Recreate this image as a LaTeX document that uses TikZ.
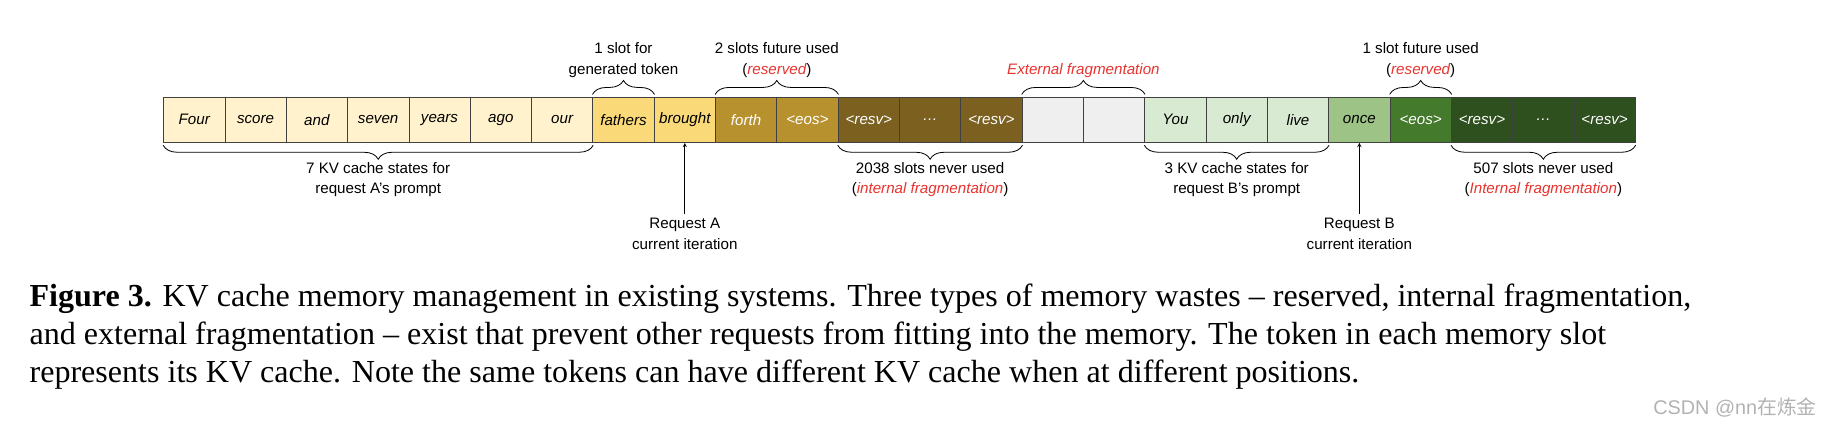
\documentclass[tikz,border=0pt]{standalone}
\usepackage{fontspec}
\setmainfont{Liberation Sans}
\newfontfamily\capfont[Ligatures=TeX]{Liberation Serif}
\newfontfamily\cjk{Noto Sans CJK SC}
\usetikzlibrary{positioning,arrows,calc,decorations.pathreplacing}

\definecolor{promptA}{HTML}{FFF2CC}
\definecolor{genA}{HTML}{F9D978}
\definecolor{rsvA}{HTML}{B8912F}
\definecolor{wasteA}{HTML}{7B6020}
\definecolor{extfrag}{HTML}{EFEFEF}
\definecolor{promptB}{HTML}{D9EAD3}
\definecolor{genB}{HTML}{9DC386}
\definecolor{rsvB}{HTML}{447A2B}
\definecolor{wasteB}{HTML}{2E4F1E}
\definecolor{fragred}{HTML}{E8332E}

\tikzset{
  slot/.style={draw=black!75, line width=0.6pt, rectangle, minimum width=52.6pt, minimum height=39pt,
    inner sep=0pt, anchor=north west, font=\fontsize{13}{15}\selectfont\itshape},
  brc/.style={decorate, decoration={brace, amplitude=12pt, raise=2pt}, line width=0.7pt},
  lbl/.style={align=center, font=\fontsize{13}{17.5}\selectfont},
}

\begin{document}
\begin{tikzpicture}[x=1pt,y=-1pt,>=stealth,thick]
  \useasboundingbox (0,0) rectangle (1568,367);

  % the memory slots
  \foreach \txt/\col/\tc [count=\i] in {Four/promptA/black, score/promptA/black, and/promptA/black,
      seven/promptA/black, years/promptA/black, ago/promptA/black, our/promptA/black,
      fathers/genA/black, brought/genA/black, forth/rsvA/white, <eos>/rsvA/white,
      <resv>/wasteA/white, \ldots/wasteA/white, <resv>/wasteA/white, {}/extfrag/black, {}/extfrag/black,
      You/promptB/black, only/promptB/black, live/promptB/black, once/genB/black,
      <eos>/rsvB/white, <resv>/wasteB/white, \ldots/wasteB/white, <resv>/wasteB/white}
    \node[slot, fill=\col, text=\tc] (c\i) at ({140+(\i-1)*52.6}, 83) {\txt};

  % braces above
  \draw[brc] (c8.north west) -- (c8.north east)
    node[midway, above=13pt, lbl] (genlbl) {1 slot for\\generated token};
  \draw[brc] (c10.north west) -- (c11.north east)
    node[midway, above=13pt, lbl] (rsvAlbl) {2 slots future used\\(\textcolor{fragred}{\itshape reserved})};
  \draw[brc] (c15.north west) -- (c16.north east)
    node[midway, above=13pt, lbl, text=fragred, font=\fontsize{13}{17.5}\selectfont\itshape] (extlbl) {External fragmentation};
  \draw[brc] (c21.north west) -- (c21.north east)
    node[midway, above=13pt, lbl] (rsvBlbl) {1 slot future used\\(\textcolor{fragred}{\itshape reserved})};

  % braces below
  \draw[brc] (c7.south east) -- (c1.south west)
    node[midway, below=13pt, lbl] (promptAlbl) {7 KV cache states for\\request A's prompt};
  \draw[brc] (c14.south east) -- (c12.south west)
    node[midway, below=13pt, lbl] (intAlbl) {2038 slots never used\\(\textcolor{fragred}{\itshape internal fragmentation})};
  \draw[brc] (c19.south east) -- (c17.south west)
    node[midway, below=13pt, lbl] (promptBlbl) {3 KV cache states for\\request B's prompt};
  \draw[brc] (c24.south east) -- (c22.south west)
    node[midway, below=13pt, lbl] (intBlbl) {507 slots never used\\(\textcolor{fragred}{\itshape Internal fragmentation})};

  % current iteration pointers
  \node[lbl, anchor=north] (reqA) at ($(c9.south)+(0,61)$) {Request A\\current iteration};
  \node[lbl, anchor=north] (reqB) at ($(c20.south)+(0,61)$) {Request B\\current iteration};
  \draw[->, line width=0.6pt] (reqA) -- (c9.south);
  \draw[->, line width=0.6pt] (reqB) -- (c20.south);

  % caption
  \node[anchor=north west, align=left, inner sep=0pt, font=\capfont\fontsize{27.5}{32.5}\selectfont] (caption) at (25,243)
    {\textbf{Figure 3.} KV cache memory management in existing systems. Three types of memory wastes -- reserved, internal fragmentation,\\
     and external fragmentation -- exist that prevent other requests from fitting into the memory. The token in each memory slot\\
     represents its KV cache. Note the same tokens can have different KV cache when at different positions.};
  \node[anchor=south east, text=black!30, font=\fontsize{17}{20}\selectfont] (mark) at (1562,362) {CSDN @nn{\cjk 在炼金}};
\end{tikzpicture}
\end{document}
